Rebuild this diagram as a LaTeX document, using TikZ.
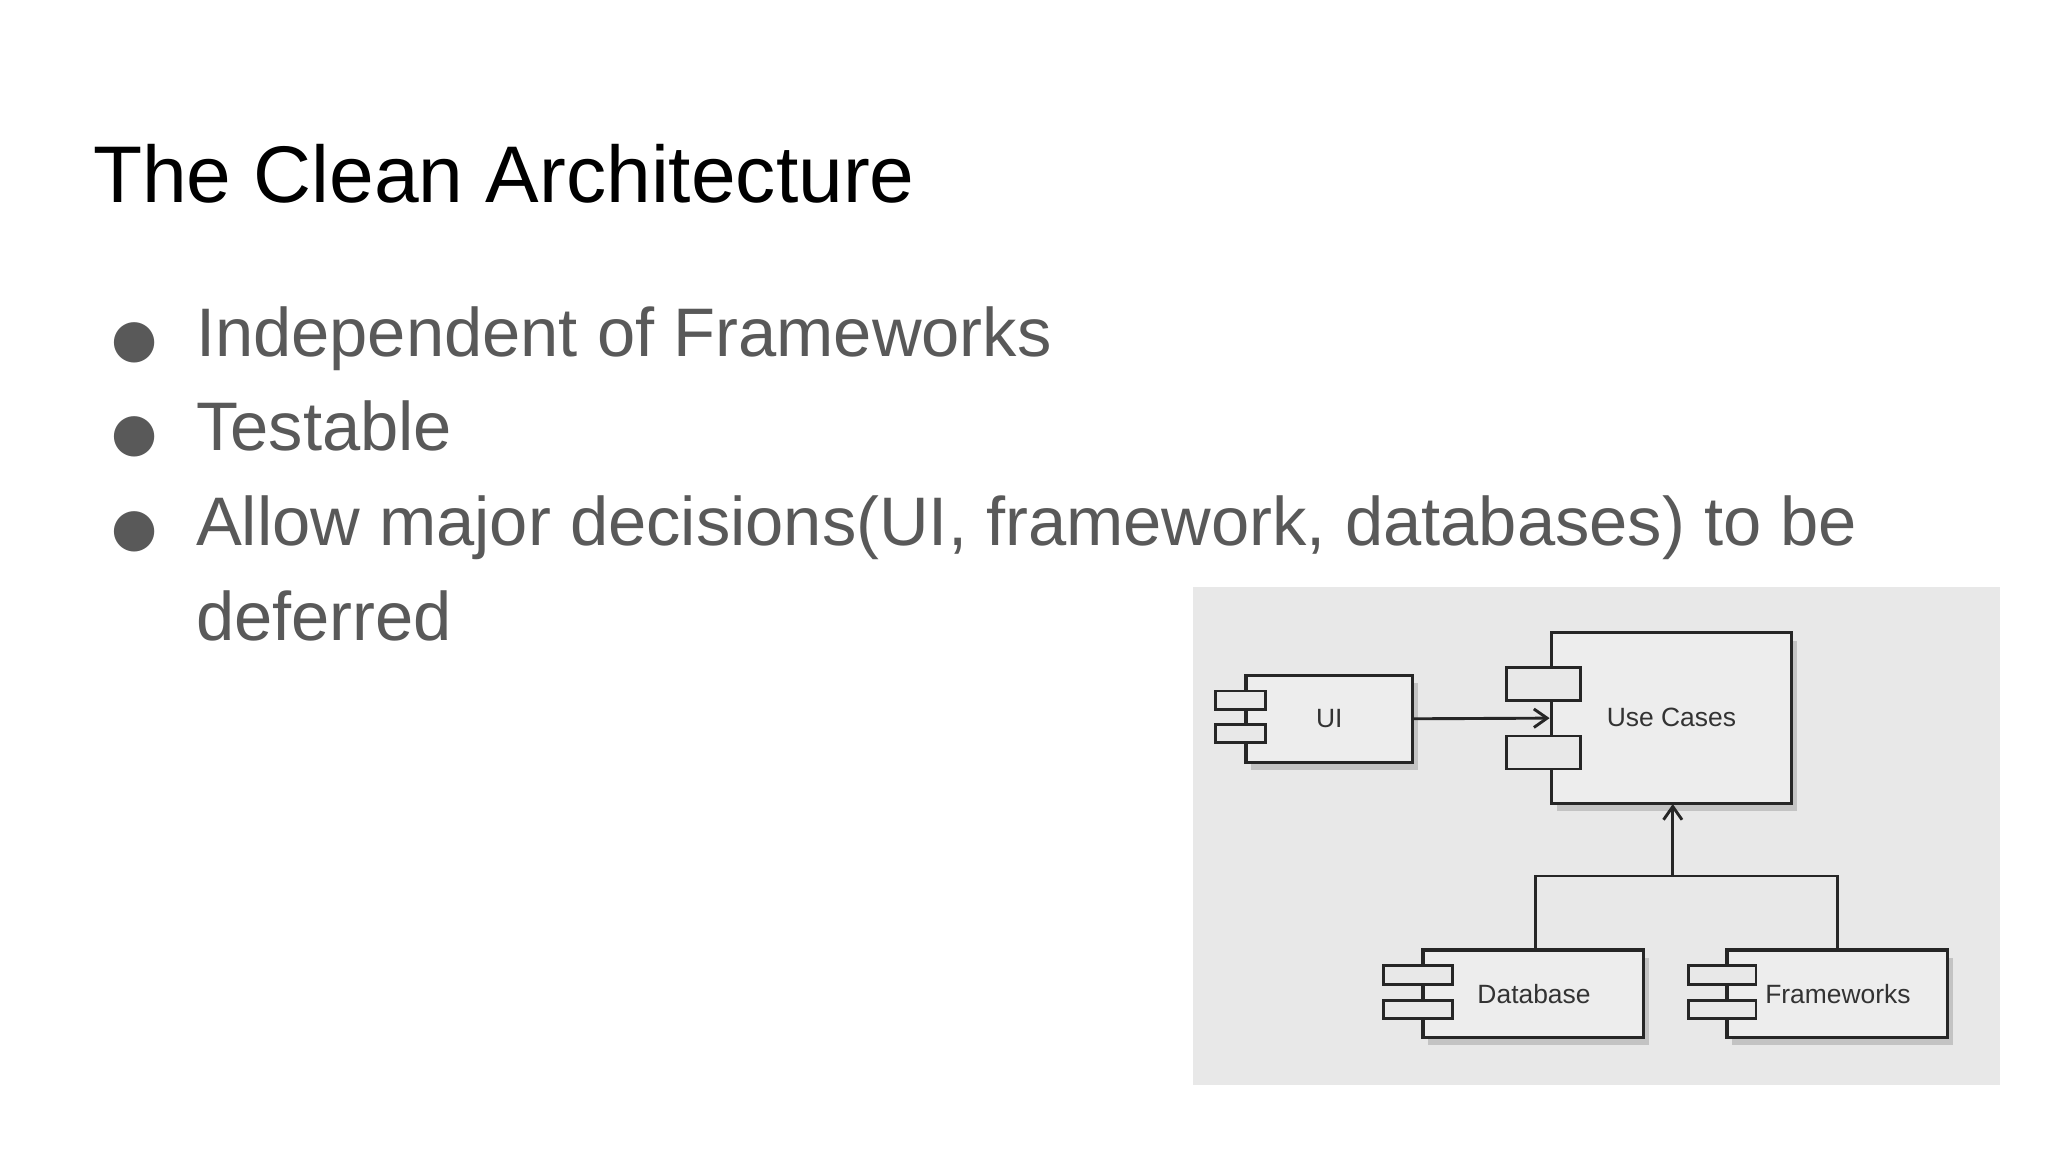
\documentclass[tikz,border=0pt]{standalone}
\usepackage{fontspec}
\setmainfont{Liberation Sans}
\newfontfamily\symfont{DejaVu Sans}
\usetikzlibrary{arrows.meta,shadows}
\begin{document}
\begin{tikzpicture}[x=0.5pt,y=-0.5pt,
  comp/.style={draw=black!85,line width=1.2pt,fill=black!7,drop shadow={shadow xshift=2pt,shadow yshift=-3pt,opacity=0.35}},
  port/.style={draw=black!85,line width=1.1pt,fill=black!9},
  lbl/.style={font=\fontsize{10}{12}\selectfont,text=black!80},
  bul/.style={anchor=base west,font=\fontsize{26}{30}\selectfont,text=black!65},
  conn/.style={draw=black!85,line width=1.1pt}]
\useasboundingbox (0,0) rectangle (1550,872);
\fill[white] (0,0) rectangle (1550,872);
\node[anchor=base west,inner sep=0,font=\fontsize{30.4}{34}\selectfont] (title) at (70,153) {The Clean Architecture};
\foreach \yy/\t [count=\i] in {270/Independent of Frameworks,341/Testable,413/{Allow major decisions(UI, framework, databases) to be}}{
  \node[anchor=base west,inner sep=0,text=black!65,font=\symfont\fontsize{20}{24}\selectfont] (b\i) at (84,\yy) {●};
  \node[bul,inner sep=0] (t\i) at (148,\yy) {\t};
}
\node[bul,inner sep=0] (t4) at (148,485) {deferred};
% diagram
\fill[black!9] (903,444) rectangle (1514,821);
\node[comp,minimum width=63pt,minimum height=33pt,inner sep=0] (ui) at (1006,544) {};
\node[lbl] at (ui) {UI};
\node[comp,minimum width=91pt,minimum height=64.5pt,inner sep=0] (uc) at (1265,543.5) {};
\node[lbl] at (1265,543) {Use Cases};
\node[comp,minimum width=83.5pt,minimum height=33pt,inner sep=0] (db) at (1160.5,752) {};
\node[lbl] at (1161,752) {Database};
\node[comp,minimum width=83.5pt,minimum height=33pt,inner sep=0] (fw) at (1390.5,752) {};
\node[lbl] at (1391,752) {Frameworks};
\draw[port] (920,523) rectangle (958,537);
\draw[port] (920,548) rectangle (958,562);
\draw[port] (1140,505) rectangle (1196,530);
\draw[port] (1140,557) rectangle (1196,582);
\draw[port] (1047,731) rectangle (1099,745);
\draw[port] (1047,757) rectangle (1099,771);
\draw[port] (1278,731) rectangle (1329,745);
\draw[port] (1278,757) rectangle (1329,771);
\draw[conn,-{Straight Barb[length=5pt,width=7pt]}] (ui.east) -- (uc.west);
\coordinate (jl) at (1162,663);
\coordinate (jr) at (1391,663);
\coordinate (jm) at (1266,663);
\draw[conn] (1162,719) -- (jl) -- (jr) -- (1391,719);
\draw[conn,-{Straight Barb[length=5pt,width=7pt]}] (jm) -- (1266,608.5);
\end{tikzpicture}
\end{document}
